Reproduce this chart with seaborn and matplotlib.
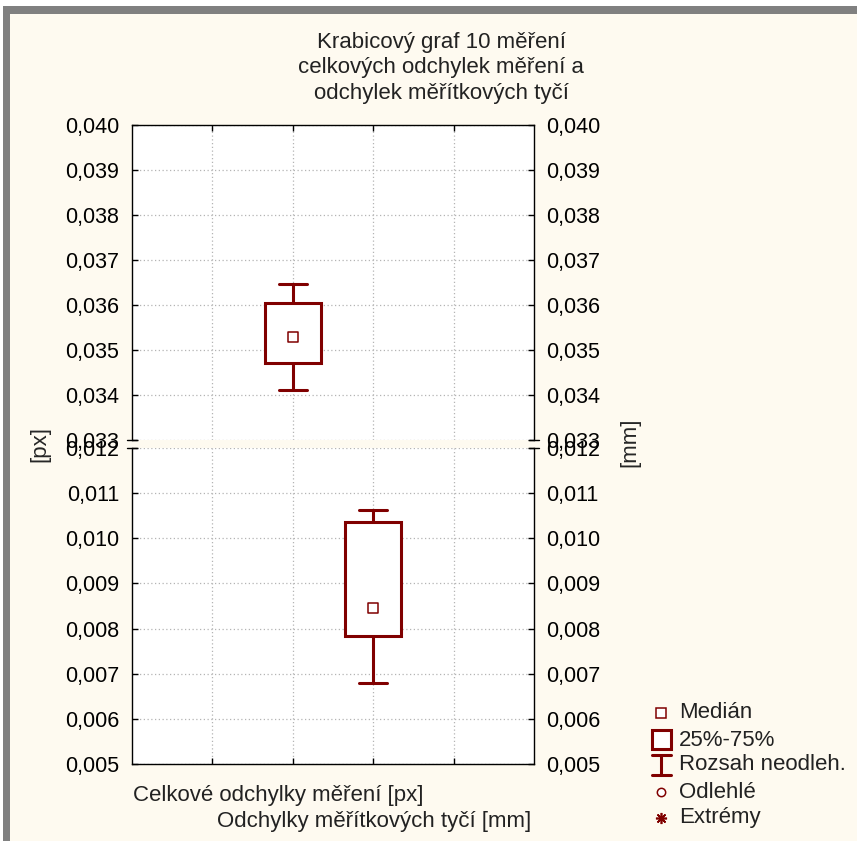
import numpy as np
import pandas as pd
import seaborn as sns
import matplotlib.pyplot as plt
from matplotlib.patches import Rectangle

sns.set_theme(style='white')
plt.rcParams['font.family'] = ['Liberation Sans', 'DejaVu Sans']

# data: min, 25 %, median, 75 %, max
promenne = ['Celkové odchylky měření [px]', 'Odchylky měřítkových tyčí [mm]']
celkove_px = [0.03412, 0.03472, 0.03528, 0.03604, 0.03647]
tyce_mm = [0.00679, 0.00783, 0.00846, 0.01035, 0.01063]
mediany = [celkove_px[2], tyce_mm[2]]

ticks_horni = [0.033, 0.034, 0.035, 0.036, 0.037, 0.038, 0.039, 0.040]
ticks_dolni = [0.005, 0.006, 0.007, 0.008, 0.009, 0.010, 0.011, 0.012]

legenda = ['Medián', '25%-75%', 'Rozsah neodleh.', 'Odlehlé', 'Extrémy']

df = pd.DataFrame({
    'promenna': [promenne[0]] * len(celkove_px) + [promenne[1]] * len(tyce_mm),
    'hodnota': celkove_px + tyce_mm,
})

RED = '#800000'
BG = '#FEFAF0'
W, H = 857, 841

fig = plt.figure(figsize=(W / 100, H / 100), dpi=100, facecolor=BG)
ax_top = fig.add_axes([132 / W, 1 - 440 / H, (534 - 132) / W, (440 - 125) / H])
ax_bot = fig.add_axes([132 / W, 1 - 764 / H, (534 - 132) / W, (764 - 448) / H])

for ax, ticks in [(ax_top, ticks_horni), (ax_bot, ticks_dolni)]:
    sns.boxplot(data=df, x='promenna', y='hodnota', ax=ax, whis=np.inf,
                width=0.7, color='white', saturation=1, linecolor=RED,
                linewidth=2.2, showfliers=False,
                medianprops={'visible': False})
    sns.scatterplot(x=[0, 1], y=mediany, marker='s', s=55, color='white',
                    edgecolor=RED, linewidth=1.1, ax=ax, zorder=5)
    ax.set_facecolor('white')
    ax.set_xlim(-2, 3)
    ax.set_ylim(ticks[0], ticks[-1])
    ax.set_xticks([-1, 0, 1, 2])
    ax.set_xticklabels([])
    ax.set_yticks(ticks)
    ax.set_yticklabels([f'{t:.3f}'.replace('.', ',') for t in ticks])
    ax.set_xlabel('')
    ax.set_ylabel('')
    ax.grid(True, linestyle=(0, (1, 2)), color='#B4B4B4', linewidth=0.9)
    ax.set_axisbelow(True)
    ax.tick_params(direction='in', length=4, width=1, colors='black',
                   left=True, right=True, labelright=True, labelsize=15.5,
                   pad=9)
    for s in ax.spines.values():
        s.set_color('black')
        s.set_linewidth(1)

ax_top.tick_params(axis='x', top=True, bottom=False)
ax_top.spines['bottom'].set_visible(False)
ax_bot.tick_params(axis='x', top=False, bottom=True)
ax_bot.spines['top'].set_visible(False)

# overlay in pixel coordinates for frame, texts and legend
ov = fig.add_axes([0, 0, 1, 1])
ov.set_xlim(0, W)
ov.set_ylim(H, 0)
ov.axis('off')
ov.patch.set_alpha(0)

ov.add_patch(Rectangle((0, 0), W, 6, color='white', lw=0))
ov.add_patch(Rectangle((0, 0), 3, H, color='white', lw=0))
ov.add_patch(Rectangle((3, 6), W, 8, color='#808080', lw=0))
ov.add_patch(Rectangle((3, 6), 7, H, color='#808080', lw=0))

# axis break marks
for y in (440, 448):
    for x in (132, 534):
        ov.plot([x - 5, x + 5], [y, y], color='black', lw=1)

for y, t in zip([42, 67, 93], ['Krabicový graf 10 měření',
                               'celkových odchylek měření a',
                               'odchylek měřítkových tyčí']):
    ov.text(441, y, t, ha='center', va='center', fontsize=16, color='#222222')

ov.text(40, 444, '[px]', rotation=90, ha='center', va='center', fontsize=16)
ov.text(630, 442, '[mm]', rotation=90, ha='center', va='center', fontsize=16)

ov.text(133, 795, promenne[0], ha='left', va='center', fontsize=16, color='#222222')
ov.text(531, 822, promenne[1], ha='right', va='center', fontsize=16, color='#222222')

# legend
ly = [713, 740, 765, 792, 818]
ov.plot([661], [ly[0]], marker='s', ms=7, mfc='white', mec=RED, mew=1.1)
ov.add_patch(Rectangle((652, 730), 19, 19, fc='white', ec=RED, lw=2.2))
ov.plot([661, 661], [755, 775], color=RED, lw=2.2)
ov.plot([652, 671], [755, 755], color=RED, lw=2.2)
ov.plot([652, 671], [775, 775], color=RED, lw=2.2)
ov.plot([661], [ly[3]], marker='o', ms=6, mfc='white', mec=RED, mew=1.1)
ov.plot([661], [ly[4]], marker=(8, 2, 0), ms=8, color=RED, mew=1.2)
for y, t in zip(ly, legenda):
    ov.text(679, y, t, ha='left', va='center', fontsize=16, color='#222222')

fig.savefig('out.png', dpi=100, facecolor=BG)
